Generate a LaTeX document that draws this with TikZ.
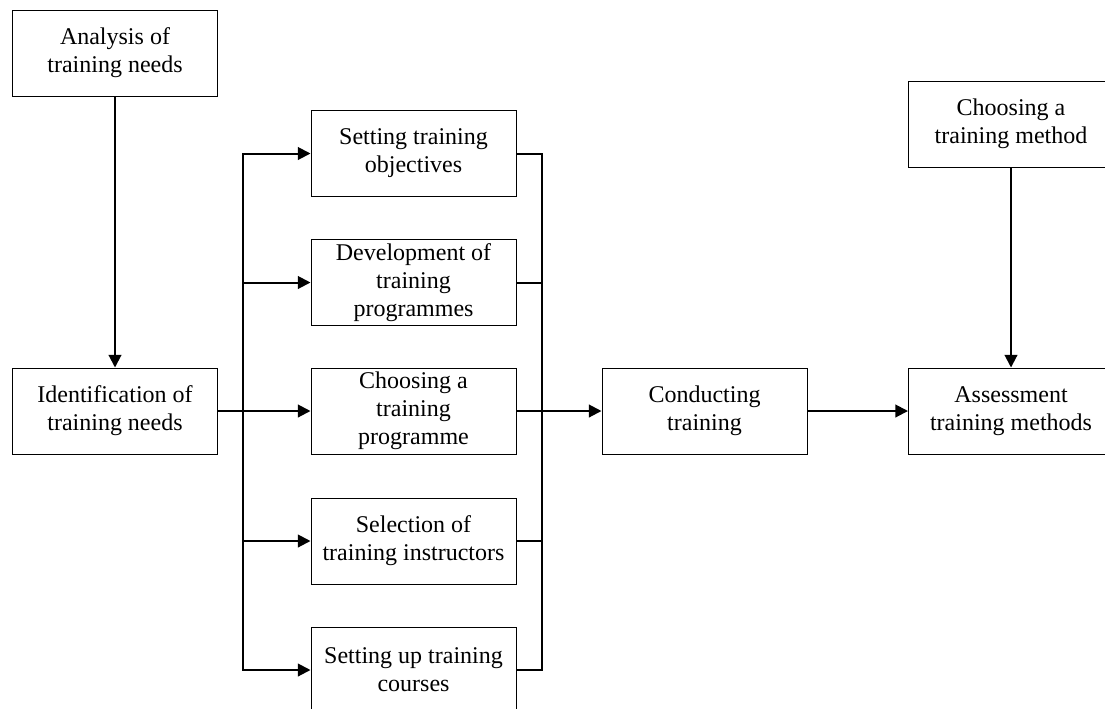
\documentclass[tikz,border=0pt]{standalone}
\usepackage{fontspec}
\setmainfont{Liberation Serif}
\usetikzlibrary{arrows.meta}
\tikzset{tbox/.style={draw,line width=0.75pt,align=center,inner sep=1pt,
           minimum width=153.75pt,minimum height=64.5pt},
         link/.style={line width=1.5pt,line cap=rect},
         arrow/.style={link,-{Triangle[length=9.5pt,width=9.5pt]}}}

\begin{document}
\begin{tikzpicture}[x=0.75pt,y=-0.75pt,font=\fontsize{18}{21}\selectfont]
    \clip (0,0) rectangle (1105,708);
    % left column
    \node[tbox] (analysis) at (115,53)  {Analysis of\\training needs};
    \node[tbox] (ident)    at (115,411) {Identification of\\training needs};
    % middle column
    \node[tbox] (setobj)    at (413.5,153.5) {Setting training\\objectives};
    \node[tbox] (devprog)   at (413.5,282.5) {Development of\\training\\programmes};
    \node[tbox] (choprog)   at (413.5,411)   {Choosing a\\training\\programme};
    \node[tbox] (selinst)   at (413.5,541)   {Selection of\\training instructors};
    \node[tbox] (setcourse) at (413.5,670)   {Setting up training\\courses};
    % right part
    \node[tbox] (conduct) at (704.5,411) {Conducting\\training};
    \node[tbox] (method)  at (1011,124)  {Choosing a\\training method};
    \node[tbox] (assess)  at (1011,411)  {Assessment\\training methods};
    % buses
    \coordinate (lbus) at (243,0);
    \coordinate (rbus) at (542,0);
    \draw[link] (ident.east) -- (ident.east -| lbus);
    \draw[link] (setobj.west -| lbus) -- (setcourse.west -| lbus);
    \draw[link] (setobj.east -| rbus) -- (setcourse.east -| rbus);
    \foreach \nd in {setobj,devprog,choprog,selinst,setcourse}{
      \draw[arrow] (\nd.west -| lbus) -- (\nd.west);
      \draw[link] (\nd.east) -- (\nd.east -| rbus);
    }
    \draw[arrow] (choprog.east -| rbus) -- (conduct.west);
    \draw[arrow] (conduct) -- (assess);
    \draw[arrow] (analysis) -- (ident);
    \draw[arrow] (method) -- (assess);
\end{tikzpicture}
\end{document}
